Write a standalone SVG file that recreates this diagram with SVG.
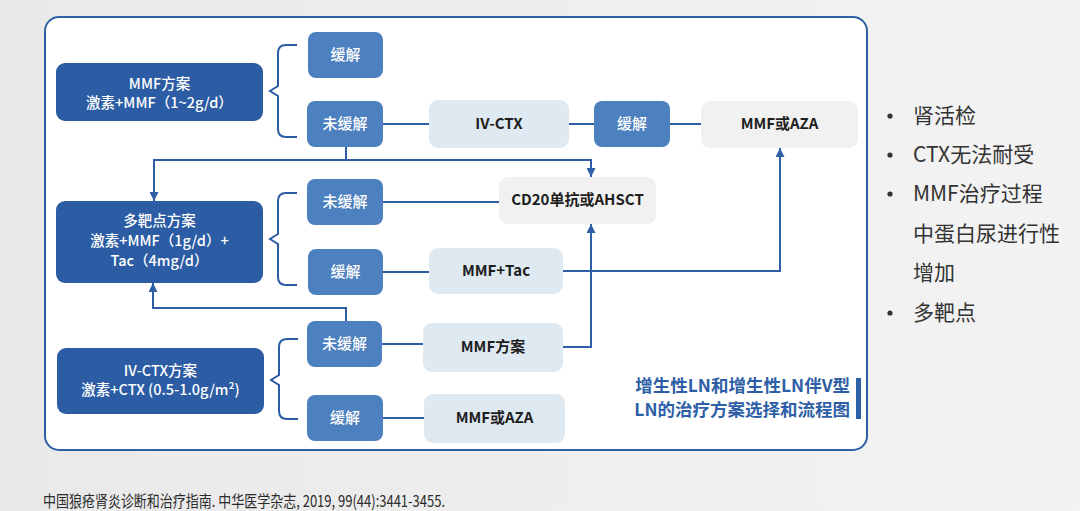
<svg xmlns="http://www.w3.org/2000/svg" width="1080" height="511" viewBox="0 0 1080 511">
<defs>
<linearGradient id="bg" x1="0" y1="0" x2="1" y2="0">
<stop offset="0" stop-color="#e9e9e9"/>
<stop offset="1" stop-color="#f3f3f3"/>
</linearGradient>
<marker id="arr" viewBox="0 0 10 10" refX="10" refY="5" markerWidth="9" markerHeight="9" markerUnits="userSpaceOnUse" orient="auto">
<path d="M0,0 L10,5 L0,10 z" fill="#2e5fa6"/>
</marker>
<style>
.dark{fill:#2b5ca4}
.mid{fill:#4d80be}
.lb{fill:#dfe9f2}
.lg{fill:#f1f1f1}
.tw{font-family:"Noto Sans CJK SC","Noto Sans",sans-serif;font-size:15px;fill:#fff;font-weight:500;text-anchor:middle}
.td{font-family:"Noto Sans CJK SC","Noto Sans",sans-serif;font-size:14.5px;fill:#fff;font-weight:500;text-anchor:middle}
.tk{font-family:"Noto Sans CJK SC","Noto Sans",sans-serif;font-size:15px;fill:#1e1e1e;font-weight:700;text-anchor:middle}
.con{fill:none;stroke:#2e5fa6;stroke-width:2}
.brace{fill:none;stroke:#2b5ca4;stroke-width:2}
.bul{font-family:"Noto Sans CJK SC","Noto Sans",sans-serif;font-size:21px;fill:#333}
</style>
</defs>
<rect width="1080" height="511" fill="url(#bg)"/>
<rect x="45" y="17" width="822" height="433" rx="14" fill="#fff" stroke="#2e5fa6" stroke-width="2"/>

<g id="connectors">
<path class="con" d="M383,124 H429"/>
<path class="con" d="M569,124 H594"/>
<path class="con" d="M670,124 H701"/>
<path class="con" d="M346,147 V160 H591 V177" marker-end="url(#arr)"/>
<path class="con" d="M346,160 H154 V201" marker-end="url(#arr)"/>
<path class="con" d="M383,202 H499"/>
<path class="con" d="M383,272 H429"/>
<path class="con" d="M563,271 H780 V148" marker-end="url(#arr)"/>
<path class="con" d="M563,347 H591 V224" marker-end="url(#arr)"/>
<path class="con" d="M346,321 V308 H153 V283" marker-end="url(#arr)"/>
<path class="con" d="M382,344 H423"/>
<path class="con" d="M383,418 H424"/>
</g>

<g id="braces">
<path class="brace" d="M297,45 H286 Q278,45 278,53 V86 L270,91 L278,96 V129 Q278,137 286,137 H297"/>
<path class="brace" d="M297,193 H286 Q278,193 278,201 V234 L270,239 L278,244 V277 Q278,285 286,285 H297"/>
<path class="brace" d="M298,339 H287 Q279,339 279,347 V375 L271,380 L279,385 V411 Q279,419 287,419 H298"/>
</g>

<g id="n-mmf-plan">
<rect class="dark" x="56" y="63" width="207" height="58" rx="9"/>
<text class="td" x="159.5" y="89">MMF方案</text>
<text class="td" x="159.5" y="108">激素+MMF（1~2g/d）</text>
</g>
<g id="n-multi">
<rect class="dark" x="56" y="201" width="207" height="82" rx="9"/>
<text class="td" x="159.5" y="226">多靶点方案</text>
<text class="td" x="159.5" y="246">激素+MMF（1g/d）+</text>
<text class="td" x="159.5" y="266">Tac（4mg/d）</text>
</g>
<g id="n-ivctx-plan">
<rect class="dark" x="57" y="348" width="207" height="66" rx="9"/>
<text class="td" x="160.5" y="376">IV-CTX方案</text>
<text class="td" x="160.5" y="395">激素+CTX (0.5-1.0g/m²)</text>
</g>

<g id="n-rem1">
<rect class="mid" x="308" y="32" width="75" height="46" rx="8"/>
<text class="tw" x="345.5" y="60">缓解</text>
</g>
<g id="n-norem1">
<rect class="mid" x="307" y="101" width="76" height="46" rx="8"/>
<text class="tw" x="345" y="129">未缓解</text>
</g>
<g id="n-norem2">
<rect class="mid" x="307" y="179" width="76" height="46" rx="8"/>
<text class="tw" x="345" y="207">未缓解</text>
</g>
<g id="n-rem2">
<rect class="mid" x="308" y="249" width="75" height="46" rx="8"/>
<text class="tw" x="345.5" y="277">缓解</text>
</g>
<g id="n-norem3">
<rect class="mid" x="307" y="321" width="75" height="46" rx="8"/>
<text class="tw" x="344.5" y="349">未缓解</text>
</g>
<g id="n-rem3">
<rect class="mid" x="307" y="395" width="76" height="46" rx="8"/>
<text class="tw" x="345" y="423">缓解</text>
</g>
<g id="n-rem4">
<rect class="mid" x="594" y="101" width="76" height="46" rx="8"/>
<text class="tw" x="632" y="129">缓解</text>
</g>

<g id="n-ivctx">
<rect class="lb" x="429" y="100" width="140" height="48" rx="9"/>
<text class="tk" x="499" y="129">IV-CTX</text>
</g>
<g id="n-mmftac">
<rect class="lb" x="429" y="248" width="134" height="46" rx="9"/>
<text class="tk" x="496" y="276">MMF+Tac</text>
</g>
<g id="n-mmfplan2">
<rect class="lb" x="423" y="323" width="140" height="49" rx="9"/>
<text class="tk" x="493" y="352">MMF方案</text>
</g>
<g id="n-mmfaza2">
<rect class="lb" x="424" y="394" width="141" height="49" rx="9"/>
<text class="tk" x="494.5" y="423">MMF或AZA</text>
</g>
<g id="n-mmfaza1">
<rect class="lg" x="701" y="101" width="157" height="47" rx="9"/>
<text class="tk" x="779.5" y="129">MMF或AZA</text>
</g>
<g id="n-cd20">
<rect class="lg" x="499" y="177" width="157" height="47" rx="9"/>
<text class="tk" x="577.5" y="205">CD20单抗或AHSCT</text>
</g>

<g id="title">
<text x="850" y="392" font-family="'Noto Sans CJK SC','Noto Sans',sans-serif" font-size="17.5" font-weight="700" fill="#2e5fa6" text-anchor="end">增生性LN和增生性LN伴V型</text>
<text x="850" y="416" font-family="'Noto Sans CJK SC','Noto Sans',sans-serif" font-size="17.5" font-weight="700" fill="#2e5fa6" text-anchor="end">LN的治疗方案选择和流程图</text>
<rect x="856" y="378" width="5" height="41" fill="#2e5fa6"/>
</g>

<g id="bullets">
<circle cx="890" cy="116" r="2.6" fill="#333"/><text class="bul" x="913" y="123">肾活检</text>
<circle cx="890" cy="155" r="2.6" fill="#333"/><text class="bul" x="913" y="162">CTX无法耐受</text>
<circle cx="890" cy="194" r="2.6" fill="#333"/><text class="bul" x="913" y="201">MMF治疗过程</text>
<text class="bul" x="913" y="241">中蛋白尿进行性</text>
<text class="bul" x="913" y="280">增加</text>
<circle cx="890" cy="313" r="2.6" fill="#333"/><text class="bul" x="913" y="320">多靶点</text>
</g>

<text x="43" y="507" font-family="'Noto Sans CJK SC','Noto Sans',sans-serif" font-size="16" fill="#2a2a2a" textLength="402" lengthAdjust="spacingAndGlyphs">中国狼疮肾炎诊断和治疗指南. 中华医学杂志, 2019, 99(44):3441-3455.</text>
</svg>
